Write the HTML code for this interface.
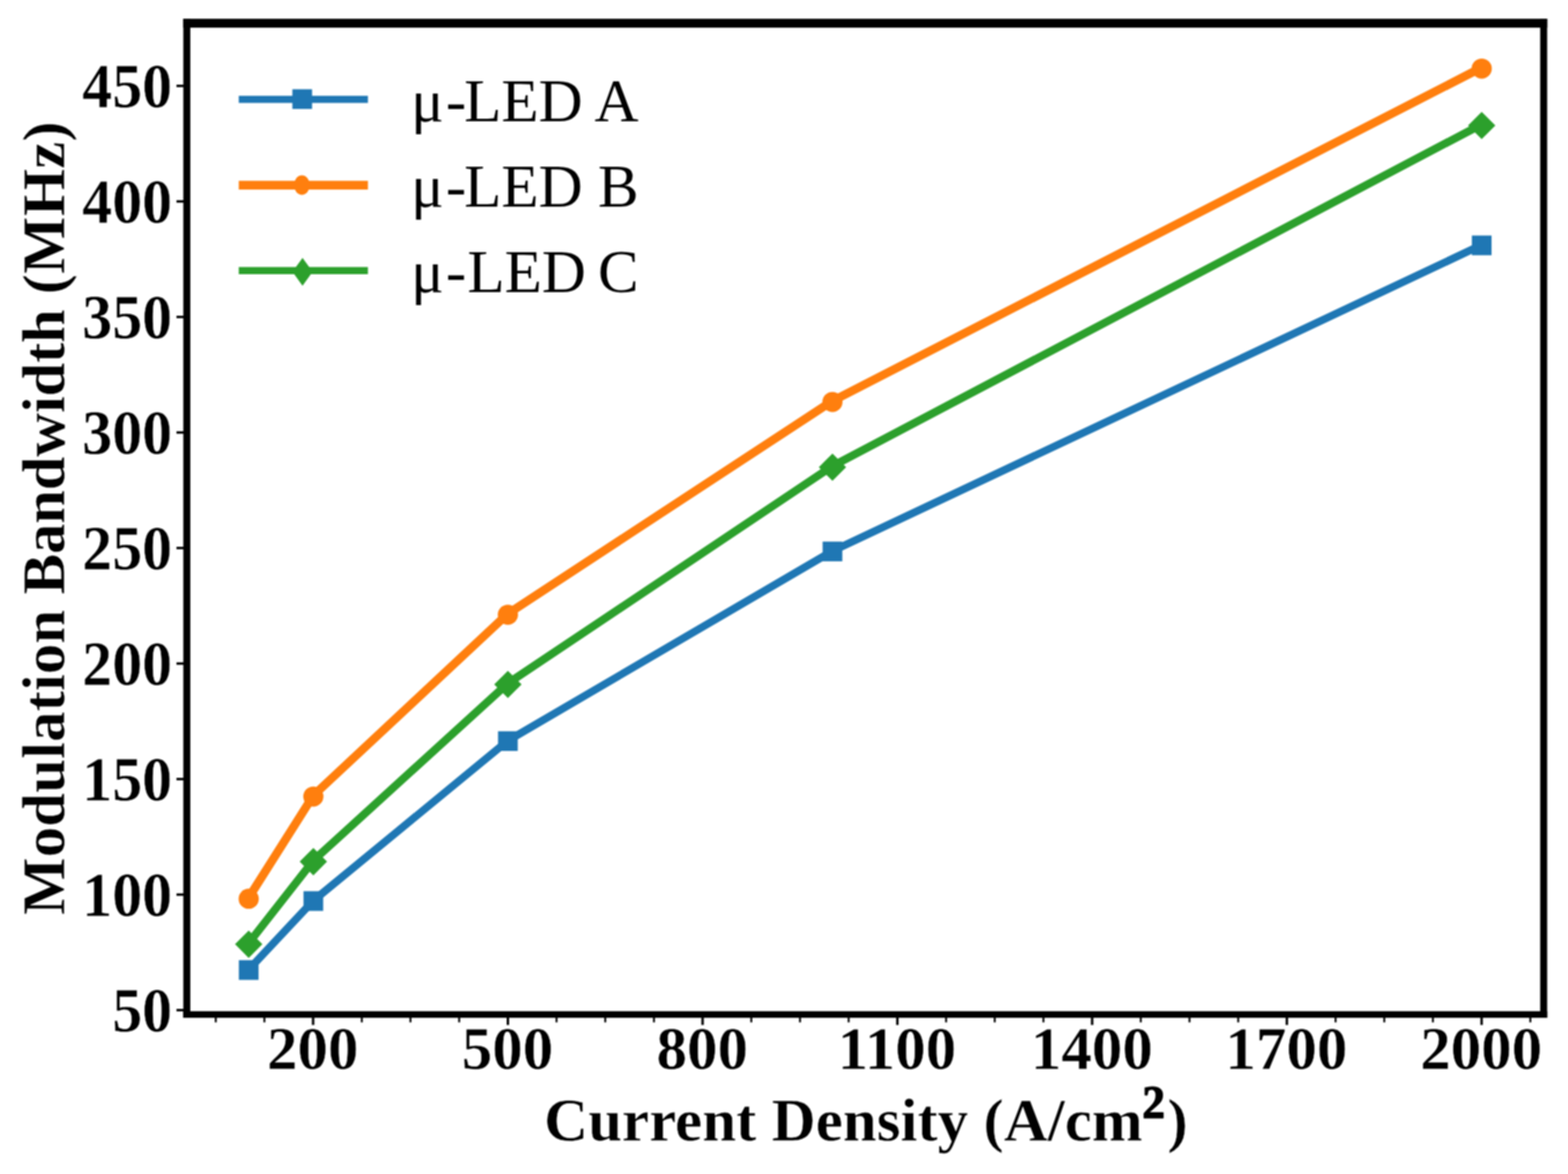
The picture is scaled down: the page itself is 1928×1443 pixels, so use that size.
<!DOCTYPE html>
<html lang="en"><head><meta charset="utf-8"><title>Modulation Bandwidth vs Current Density</title>
<style>
html,body{margin:0;padding:0;background:#fff;}
body{width:1928px;height:1443px;}
svg{display:block;}
text{font-family:"Liberation Serif","DejaVu Serif",serif;fill:#000;}
.b{font-weight:bold;stroke:#fff;stroke-width:0.5px;stroke-linejoin:round;}
</style></head><body>
<svg width="1928" height="1443" viewBox="0 0 1928 1443" role="img" aria-label="Modulation bandwidth versus current density for three micro-LEDs">
<defs><filter id="soft" filterUnits="userSpaceOnUse" x="0" y="0" width="1928" height="1443" color-interpolation-filters="sRGB"><feConvolveMatrix order="3" kernelMatrix="1 1 1 1 1 1 1 1 1" edgeMode="duplicate" preserveAlpha="true"/></filter></defs>
<g filter="url(#soft)">
<rect x="0" y="0" width="1928" height="1443" fill="#fff"/>
<g fill="none" stroke-linejoin="round" stroke-linecap="butt">
<polyline points="305.8,1191.8 385.3,1107.0 624.5,910.4 1023.6,677.3 1821.9,301.1" stroke="#1f77b4" stroke-width="9.4"/>
<polyline points="305.8,1103.4 385.3,977.8 624.5,754.3 1023.6,492.8 1821.9,83.0" stroke="#ff7f0e" stroke-width="10.4"/>
<polyline points="305.8,1159.2 385.3,1057.7 624.5,839.9 1023.6,572.9 1821.9,152.8" stroke="#2ca02c" stroke-width="9.8"/>
</g>
<g>
<rect x="293.7" y="1180.2" width="24.2" height="24.2" fill="#1f77b4"/>
<rect x="373.2" y="1095.4" width="24.2" height="24.2" fill="#1f77b4"/>
<rect x="612.4" y="898.8" width="24.2" height="24.2" fill="#1f77b4"/>
<rect x="1011.5" y="665.7" width="24.2" height="24.2" fill="#1f77b4"/>
<rect x="1809.8" y="289.5" width="24.2" height="24.2" fill="#1f77b4"/>
<ellipse cx="305.8" cy="1104.7" rx="12.4" ry="12.4" fill="#ff7f0e"/>
<ellipse cx="385.3" cy="979.1" rx="12.4" ry="12.4" fill="#ff7f0e"/>
<ellipse cx="624.5" cy="755.6" rx="12.4" ry="12.4" fill="#ff7f0e"/>
<ellipse cx="1023.6" cy="494.1" rx="12.4" ry="12.4" fill="#ff7f0e"/>
<ellipse cx="1821.9" cy="84.3" rx="12.4" ry="12.4" fill="#ff7f0e"/>
<polygon points="305.8,1143.8 322.6,1160.6 305.8,1177.4 289.0,1160.6" fill="#2ca02c"/>
<polygon points="385.3,1042.3 402.1,1059.1 385.3,1075.9 368.5,1059.1" fill="#2ca02c"/>
<polygon points="624.5,824.5 641.3,841.3 624.5,858.1 607.7,841.3" fill="#2ca02c"/>
<polygon points="1023.6,557.5 1040.4,574.3 1023.6,591.1 1006.8,574.3" fill="#2ca02c"/>
<polygon points="1821.9,137.4 1838.7,154.2 1821.9,171.0 1805.1,154.2" fill="#2ca02c"/>
</g>
<g stroke="#000" fill="none">
<line x1="217.0" y1="1241.6" x2="226" y2="1241.6" stroke-width="3.0"/>
<line x1="217.0" y1="1099.6" x2="226" y2="1099.6" stroke-width="3.0"/>
<line x1="217.0" y1="957.6" x2="226" y2="957.6" stroke-width="3.0"/>
<line x1="217.0" y1="815.6" x2="226" y2="815.6" stroke-width="3.0"/>
<line x1="217.0" y1="673.6" x2="226" y2="673.6" stroke-width="3.0"/>
<line x1="217.0" y1="531.6" x2="226" y2="531.6" stroke-width="3.0"/>
<line x1="217.0" y1="389.6" x2="226" y2="389.6" stroke-width="3.0"/>
<line x1="217.0" y1="247.6" x2="226" y2="247.6" stroke-width="3.0"/>
<line x1="217.0" y1="105.6" x2="226" y2="105.6" stroke-width="3.0"/>
<line x1="385.0" y1="1250" x2="385.0" y2="1259.8" stroke-width="3.0"/>
<line x1="624.5" y1="1250" x2="624.5" y2="1259.8" stroke-width="3.0"/>
<line x1="863.9" y1="1250" x2="863.9" y2="1259.8" stroke-width="3.0"/>
<line x1="1103.4" y1="1250" x2="1103.4" y2="1259.8" stroke-width="3.0"/>
<line x1="1342.9" y1="1250" x2="1342.9" y2="1259.8" stroke-width="3.0"/>
<line x1="1582.3" y1="1250" x2="1582.3" y2="1259.8" stroke-width="3.0"/>
<line x1="1821.8" y1="1250" x2="1821.8" y2="1259.8" stroke-width="3.0"/>
<line x1="265.3" y1="1250" x2="265.3" y2="1256.6" stroke-width="2.4"/>
<line x1="325.1" y1="1250" x2="325.1" y2="1256.6" stroke-width="2.4"/>
<line x1="444.9" y1="1250" x2="444.9" y2="1256.6" stroke-width="2.4"/>
<line x1="504.7" y1="1250" x2="504.7" y2="1256.6" stroke-width="2.4"/>
<line x1="564.6" y1="1250" x2="564.6" y2="1256.6" stroke-width="2.4"/>
<line x1="684.3" y1="1250" x2="684.3" y2="1256.6" stroke-width="2.4"/>
<line x1="744.2" y1="1250" x2="744.2" y2="1256.6" stroke-width="2.4"/>
<line x1="804.1" y1="1250" x2="804.1" y2="1256.6" stroke-width="2.4"/>
<line x1="923.8" y1="1250" x2="923.8" y2="1256.6" stroke-width="2.4"/>
<line x1="983.7" y1="1250" x2="983.7" y2="1256.6" stroke-width="2.4"/>
<line x1="1043.5" y1="1250" x2="1043.5" y2="1256.6" stroke-width="2.4"/>
<line x1="1163.3" y1="1250" x2="1163.3" y2="1256.6" stroke-width="2.4"/>
<line x1="1223.1" y1="1250" x2="1223.1" y2="1256.6" stroke-width="2.4"/>
<line x1="1283.0" y1="1250" x2="1283.0" y2="1256.6" stroke-width="2.4"/>
<line x1="1402.7" y1="1250" x2="1402.7" y2="1256.6" stroke-width="2.4"/>
<line x1="1462.6" y1="1250" x2="1462.6" y2="1256.6" stroke-width="2.4"/>
<line x1="1522.5" y1="1250" x2="1522.5" y2="1256.6" stroke-width="2.4"/>
<line x1="1642.2" y1="1250" x2="1642.2" y2="1256.6" stroke-width="2.4"/>
<line x1="1702.1" y1="1250" x2="1702.1" y2="1256.6" stroke-width="2.4"/>
<line x1="1761.9" y1="1250" x2="1761.9" y2="1256.6" stroke-width="2.4"/>
<line x1="1881.7" y1="1250" x2="1881.7" y2="1256.6" stroke-width="2.4"/>
</g>
<g fill="#000">
<rect x="225.4" y="23.1" width="1677.0" height="10.9"/>
<rect x="225.4" y="1242.9" width="1677.0" height="8.1"/>
<rect x="225.4" y="23.1" width="8.6" height="1227.9"/>
<rect x="1893.8" y="23.1" width="8.6" height="1227.9"/>
</g>
<g class="b" font-size="75" id="xt">
<text x="384.5" y="1313.8" text-anchor="middle">200</text>
<text x="624.0" y="1313.8" text-anchor="middle">500</text>
<text x="863.4" y="1313.8" text-anchor="middle">800</text>
<text x="1102.9" y="1313.8" text-anchor="middle">1100</text>
<text x="1342.4" y="1313.8" text-anchor="middle">1400</text>
<text x="1581.8" y="1313.8" text-anchor="middle">1700</text>
<text x="1821.3" y="1313.8" text-anchor="middle">2000</text>
</g>
<g class="b" font-size="75" id="yt">
<text transform="translate(211.8,1242.2) scale(0.985,1.045)" x="0" y="24.6" text-anchor="end">50</text>
<text transform="translate(211.8,1100.2) scale(0.985,1.045)" x="0" y="24.6" text-anchor="end">100</text>
<text transform="translate(211.8,958.2) scale(0.985,1.045)" x="0" y="24.6" text-anchor="end">150</text>
<text transform="translate(211.8,816.2) scale(0.985,1.045)" x="0" y="24.6" text-anchor="end">200</text>
<text transform="translate(211.8,674.2) scale(0.985,1.045)" x="0" y="24.6" text-anchor="end">250</text>
<text transform="translate(211.8,532.2) scale(0.985,1.045)" x="0" y="24.6" text-anchor="end">300</text>
<text transform="translate(211.8,390.2) scale(0.985,1.045)" x="0" y="24.6" text-anchor="end">350</text>
<text transform="translate(211.8,248.2) scale(0.985,1.045)" x="0" y="24.6" text-anchor="end">400</text>
<text transform="translate(211.8,106.2) scale(0.985,1.045)" x="0" y="24.6" text-anchor="end">450</text>
</g>
<text id="xl" class="b" font-size="75" x="669.0" y="1401.8">Current Density (A/cm<tspan font-size="56" dy="-28" dx="-0.5" style="stroke:#000;stroke-width:1.4px">2</tspan><tspan dy="28" dx="3.0">)</tspan></text>
<text id="yl" class="b" font-size="75" transform="translate(78.6,1124.5) rotate(-90)" x="0" y="0">Modulation <tspan letter-spacing="-0.45px">Bandwidth</tspan> (MHz)</text>
<g id="leg">
<line x1="293.6" y1="122.2" x2="452.4" y2="122.2" stroke="#1f77b4" stroke-width="8.8"/>
<rect x="359.5" y="109.7" width="24.2" height="24.2" fill="#1f77b4"/>
<line x1="293.6" y1="227.6" x2="452.4" y2="227.6" stroke="#ff7f0e" stroke-width="10.8"/>
<ellipse cx="371.2" cy="227.5" rx="9.7" ry="11.9" fill="#ff7f0e"/>
<line x1="293.6" y1="332.6" x2="452.4" y2="332.6" stroke="#2ca02c" stroke-width="8.8"/>
<polygon points="372.0,317.0 384.4,334.1 372.0,351.2 359.6,334.1" fill="#2ca02c"/>
<text font-size="75" x="505.5" y="148.9">μ<tspan dx="2.5">-</tspan><tspan dx="-2.5">LED</tspan><tspan dx="0"> A</tspan></text>
<text font-size="75" x="505.5" y="253.9">μ<tspan dx="2.5">-</tspan><tspan dx="-2.5">LED</tspan><tspan dx="0"> B</tspan></text>
<text font-size="75" x="505.5" y="358.9">μ<tspan dx="2.5">-</tspan><tspan dx="1.5">LED</tspan><tspan dx="-4.0"> C</tspan></text>
</g>
</g>
</svg>
</body></html>
